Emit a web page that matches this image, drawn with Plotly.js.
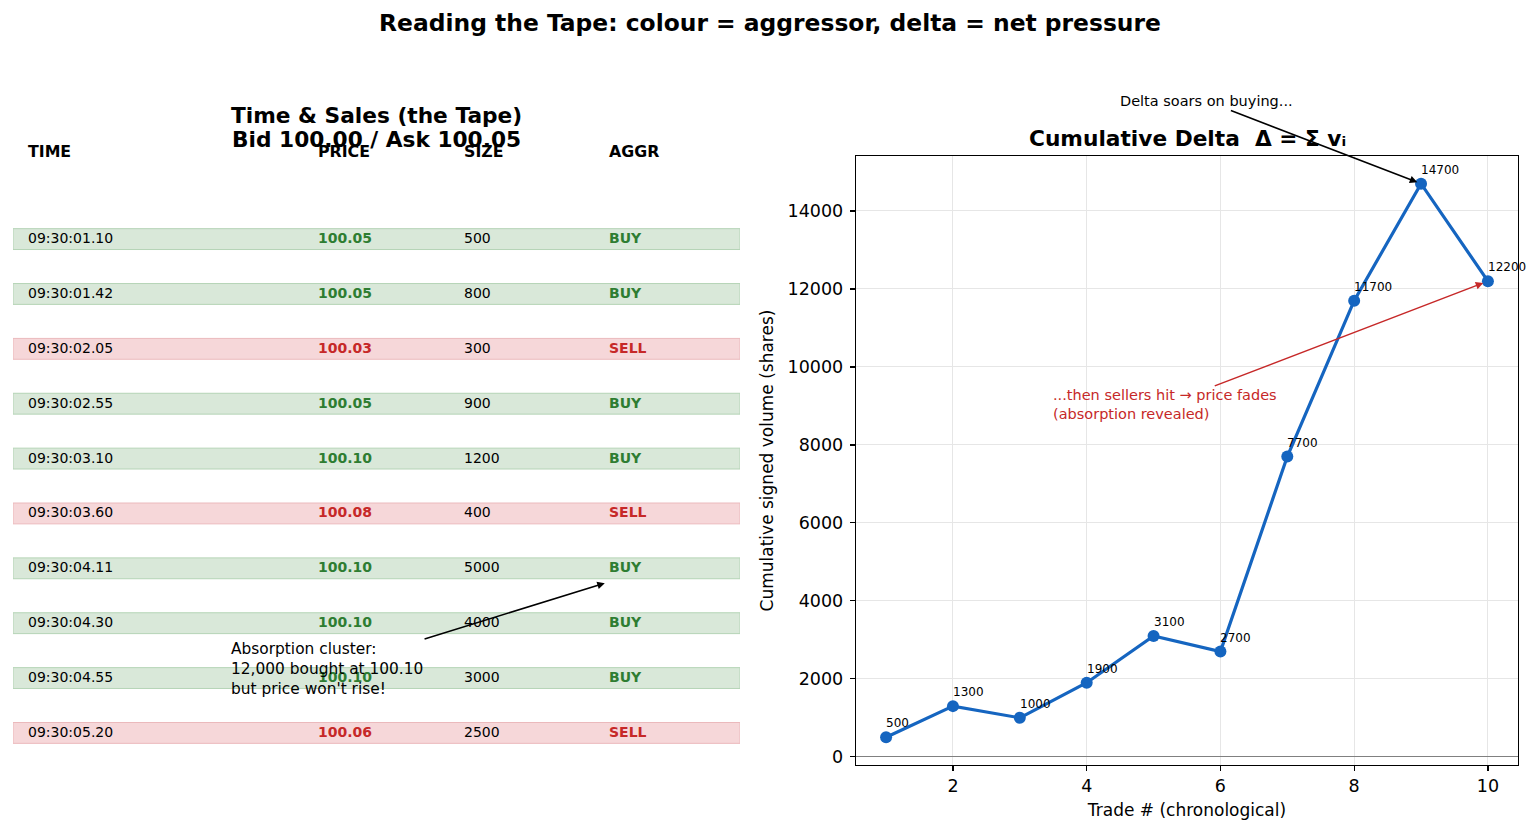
<!DOCTYPE html>
<html>
<head>
<meta charset="utf-8">
<script src="https://cdn.plot.ly/plotly-3.0.1.min.js"></script>
<style>html,body{margin:0;padding:0;background:#fff;}#chart{width:1540px;height:834px;}</style>
</head>
<body>
<div id="chart"></div>
<script>
// ---- data ----
const times = ["09:30:01.10","09:30:01.42","09:30:02.05","09:30:02.55","09:30:03.10","09:30:03.60","09:30:04.11","09:30:04.30","09:30:04.55","09:30:05.20"];
const prices = ["100.05","100.05","100.03","100.05","100.10","100.08","100.10","100.10","100.10","100.06"];
const sizes = [500, 800, 300, 900, 1200, 400, 5000, 4000, 3000, 2500];
const aggressors = ["BUY","BUY","SELL","BUY","BUY","SELL","BUY","BUY","BUY","SELL"];
const headers = ["TIME","PRICE","SIZE","AGGR"];
const tradeNo = [1,2,3,4,5,6,7,8,9,10];
const cumDelta = [500, 1300, 1000, 1900, 3100, 2700, 7700, 11700, 14700, 12200];

// ---- styles ----
const GREEN = "#2e7d32", RED = "#c62828", BLUE = "#1565c0";
const FONT = "DejaVu Sans, Liberation Sans, sans-serif";
const colX = [0.02, 0.42, 0.62, 0.82];
const W = 1540, H = 834;
const px = (p) => p / W;
const py = (p) => 1 - p / H;

const shapes = [];
const annotations = [];

// table rows
aggressors.forEach((a, i) => {
  const buy = a === "BUY";
  shapes.push({
    type: "rect", xref: "x2", yref: "y2", x0: 0, x1: 1, y0: i - 0.19, y1: i + 0.19,
    fillcolor: buy ? "#d9e8d9" : "#f6d7d9",
    line: { color: buy ? "#b5d4b6" : "#ebb9bc", width: 1 }, layer: "below"
  });
  const c = buy ? GREEN : RED;
  const cells = [
    { t: times[i], color: "#000", bold: false },
    { t: prices[i], color: c, bold: true },
    { t: String(sizes[i]), color: "#000", bold: false },
    { t: a, color: c, bold: true }
  ];
  cells.forEach((cell, j) => {
    annotations.push({
      xref: "x2", yref: "y2", x: colX[j], y: i, xanchor: "left", yanchor: "middle",
      xshift: -2, yshift: 1,
      text: cell.bold ? "<b>" + cell.t + "</b>" : cell.t, showarrow: false,
      font: { family: FONT, size: 14, color: cell.color }
    });
  });
});
headers.forEach((h, j) => {
  annotations.push({
    xref: "x2", yref: "y2", x: colX[j], y: -1.61, xanchor: "left", yanchor: "middle",
    xshift: -2, yshift: -1, text: "<b>" + h + "</b>", showarrow: false,
    font: { family: FONT, size: 15.8, color: "#000" }
  });
});
// left title (two lines)
annotations.push({
  xref: "x2", yref: "y2", x: 0.5, y: -2.26, xanchor: "center", yanchor: "middle",
  text: "<b>Time & Sales (the Tape)</b>", showarrow: false,
  font: { family: FONT, size: 21.7, color: "#000" }
});
annotations.push({
  xref: "x2", yref: "y2", x: 0.5, y: -1.82, xanchor: "center", yanchor: "middle",
  text: "<b>Bid 100.00 / Ask 100.05</b>", showarrow: false,
  font: { family: FONT, size: 21.7, color: "#000" }
});
// absorption annotation
annotations.push({
  xref: "x2", yref: "y2", x: 0.814, y: 6.27, axref: "x2", ayref: "y2", ax: 0.432, ay: 7.84,
  text: "Absorption cluster:<br>12,000 bought at 100.10<br>but price won't rise!", align: "left",
  showarrow: true, arrowhead: 2, arrowsize: 1, arrowwidth: 1.5, arrowcolor: "#000",
  font: { family: FONT, size: 15.4, color: "#000" }
});

// right title
annotations.push({
  xref: "paper", yref: "paper", x: px(1187), y: py(139), xanchor: "center", yanchor: "middle",
  text: "<b>Cumulative Delta  Δ = Σ vᵢ</b>", showarrow: false,
  font: { family: FONT, size: 21.7, color: "#000" }
});
// point labels
tradeNo.forEach((t, i) => {
  annotations.push({
    xref: "x", yref: "y", x: t, y: cumDelta[i], xanchor: "left", yanchor: "bottom",
    xshift: -2, yshift: 5, text: String(cumDelta[i]), showarrow: false,
    font: { family: FONT, size: 12, color: "#000" }
  });
});
// arrows on right
annotations.push({
  xref: "x", yref: "y", x: 9, y: 14700, axref: "x", ayref: "y", ax: 5.787, ay: 16820,
  text: "Delta soars on buying...", showarrow: true, arrowhead: 2, arrowsize: 1, arrowwidth: 1.5,
  arrowcolor: "#000", standoff: 4, font: { family: FONT, size: 14.5, color: "#000" }
});
annotations.push({
  xref: "x", yref: "y", x: 10, y: 12200, axref: "x", ayref: "y", ax: 5.174, ay: 9026,
  text: "...then sellers hit → price fades<br>(absorption revealed)", align: "left",
  showarrow: true, arrowhead: 2, arrowsize: 1, arrowwidth: 1.5,
  arrowcolor: RED, standoff: 5, font: { family: FONT, size: 14.5, color: RED }
});

const traces = [
  {
    x: tradeNo, y: cumDelta, xaxis: "x", yaxis: "y", type: "scatter", mode: "lines+markers",
    line: { color: BLUE, width: 3.2 }, marker: { color: BLUE, size: 12 }, hoverinfo: "x+y"
  },
  { x: [0, 1], y: [0, 9], xaxis: "x2", yaxis: "y2", type: "scatter", mode: "markers",
    marker: { opacity: 0 }, hoverinfo: "skip" }
];

const axisCommon = {
  showline: true, mirror: true, linecolor: "#000", linewidth: 1.3,
  ticks: "outside", ticklen: 5, tickwidth: 1.2, tickcolor: "#000",
  showgrid: true, gridcolor: "#e6e6e6", gridwidth: 1,
  tickfont: { family: FONT, size: 17.5, color: "#000" }
};

const layout = {
  width: W, height: H, margin: { l: 0, r: 0, t: 0, b: 0 },
  paper_bgcolor: "#fff", plot_bgcolor: "#fff", showlegend: false,
  title: {
    text: "Reading the Tape: colour = aggressor, delta = net pressure",
    x: 0.5, xanchor: "center", y: py(23), yanchor: "middle", yref: "container",
    font: { family: FONT, size: 23.4, color: "#000", weight: "bold" }
  },
  xaxis: Object.assign({}, axisCommon, {
    domain: [px(856), px(1518)], range: [0.55, 10.45], tickmode: "linear", tick0: 2, dtick: 2,
    zeroline: false,
    title: { text: "Trade # (chronological)", standoff: 8, font: { family: FONT, size: 17, color: "#000" } }
  }),
  yaxis: Object.assign({}, axisCommon, {
    domain: [py(765), py(156)], range: [-210, 15410], tickmode: "linear", tick0: 0, dtick: 2000,
    tickformat: "d", ticklabelstandoff: 3,
    zeroline: true, zerolinecolor: "#808080", zerolinewidth: 1.3,
    title: { text: "Cumulative signed volume (shares)", standoff: 9, font: { family: FONT, size: 17, color: "#000" } }
  }),
  xaxis2: {
    domain: [px(13), px(740)], range: [0, 1], anchor: "y2",
    showline: false, showgrid: false, zeroline: false, showticklabels: false, ticks: "", fixedrange: true
  },
  yaxis2: {
    domain: [py(780), py(100)], range: [9.858, -2.535], anchor: "x2",
    showline: false, showgrid: false, zeroline: false, showticklabels: false, ticks: "", fixedrange: true
  },
  shapes: shapes,
  annotations: annotations
};

Plotly.newPlot("chart", traces, layout, { displayModeBar: false, staticPlot: true });
</script>
</body>
</html>
